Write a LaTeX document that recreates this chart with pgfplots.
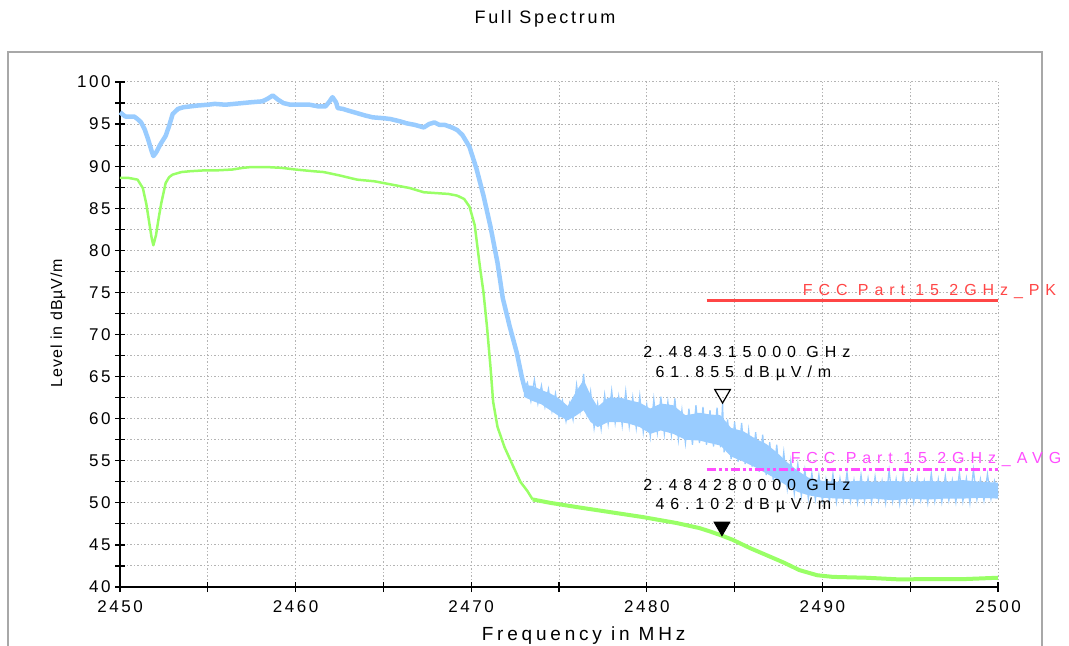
\documentclass[border=0pt]{standalone}
\usepackage{fontspec}
\setmainfont{Liberation Sans}
\newfontfamily\tickfam[LetterSpace=15]{Liberation Sans}
\newfontfamily\annfam[LetterSpace=37]{Liberation Sans}
\newfontfamily\labfam[LetterSpace=20]{Liberation Sans}
\newfontfamily\ylabfam[LetterSpace=6]{Liberation Sans}
\newfontfamily\titfam[LetterSpace=15]{Liberation Sans}
\usepackage{pgfplots}
\pgfplotsset{compat=1.18}
\definecolor{pkblue}{HTML}{99CCFF}
\definecolor{avgreen}{HTML}{99FF66}
\definecolor{limred}{HTML}{FF4646}
\definecolor{limmag}{HTML}{FF4DFF}
\definecolor{gridgray}{HTML}{B4B4B4}
\definecolor{framegray}{HTML}{A8A8A8}
\begin{document}
\begin{tikzpicture}
\path[use as bounding box] (-120bp,-59bp) rectangle (949bp,587bp);
\draw[framegray, line width=1.5bp] (-112bp,-62bp) -- (-112bp,535bp) -- (922bp,535bp) -- (922bp,-62bp);
\begin{axis}[
  at={(0,0)}, anchor=south west,
  width=878bp, height=505bp, scale only axis,
  xmin=2450, xmax=2500, ymin=40, ymax=100,
  axis lines*=left,
  axis line style={line width=1.5bp, black},
  xtick={2450,2460,...,2500}, minor x tick num=1,
  ytick={40,45,...,100}, minor y tick num=1,
  tick align=center,
  major tick length=10bp, minor tick length=10bp,
  every tick/.style={black, line width=1.2bp},
  grid=both,
  major grid style={gridgray, line width=1bp, dash pattern=on 1.5bp off 2bp},
  minor grid style={gridgray, line width=1bp, dash pattern=on 1.5bp off 2bp},
  /pgf/number format/assume math mode=true,
  /pgf/number format/set thousands separator={},
  ticklabel style={font=\fontsize{17bp}{19bp}\selectfont\tickfam},
  xticklabel style={yshift=-5bp},
  yticklabel style={xshift=-1bp},
  xlabel={Frequency in MHz},
  x label style={at={(axis description cs:0.528,0)}, anchor=center, yshift=-49bp, font=\fontsize{19bp}{21bp}\selectfont\labfam},
  ylabel={Level in dBµV/m},
  y label style={at={(axis description cs:-0.0706,0.523)}, anchor=center, rotate=0, font=\fontsize{16bp}{18bp}\selectfont\ylabfam},
  clip=false,
]
\node[font=\fontsize{18bp}{20bp}\selectfont\titfam, anchor=center] at (axis description cs:0.484,1.1247) {Full Spectrum};
% average trace
\addplot[avgreen, line width=2.5bp, line join=round] coordinates {
(2450.0,88.6) (2450.5,88.6) (2451.0,88.4) (2451.3,87.4) (2451.5,85.5) (2451.65,83.5) (2451.8,81.5) (2451.9,80.6) (2452.05,81.8) (2452.2,83.8) (2452.35,85.6) (2452.6,88.0) (2452.8,88.7) (2453.0,89.0) (2453.5,89.3) (2454.0,89.4) (2454.8,89.5) (2455.5,89.5) (2456.4,89.6) (2457.0,89.8) (2457.5,89.9) (2458.3,89.9) (2459.2,89.8) (2460.0,89.6) (2461.0,89.4) (2461.6,89.3) (2462.5,88.9) (2463.5,88.4) (2464.5,88.2) (2465.5,87.8) (2466.5,87.4) (2467.3,86.9) (2468.0,86.8) (2468.7,86.7) (2469.2,86.5) (2469.6,86.1) (2469.9,85.2) (2470.2,83.0) (2470.5,78.0) (2470.7,75.0) (2470.9,70.9) (2471.1,66.1) (2471.25,62.0) (2471.5,59.0) (2471.9,56.6) (2472.4,54.3) (2472.8,52.5) (2473.2,51.4) (2473.5,50.4)
};
\addplot[avgreen, line width=4bp, line join=round] coordinates {
(2473.5,50.4) (2474.5,50.0) (2476.0,49.5) (2477.9,48.9) (2479.8,48.3) (2481.7,47.6) (2483.0,47.0) (2483.6,46.6) (2484.28,46.1) (2484.9,45.6) (2485.9,44.6) (2486.8,43.8) (2487.8,42.9) (2488.7,42.0) (2489.7,41.4) (2490.6,41.2) (2492.5,41.1) (2494.4,40.9) (2496.3,40.95) (2498.2,40.95) (2500,41.1)
};
% peak trace
\addplot[pkblue, line width=4.5bp, line join=round] coordinates {
(2450.0,96.4) (2450.3,95.9) (2450.8,95.9) (2451.0,95.6) (2451.2,95.2) (2451.4,94.4) (2451.6,93.2) (2451.8,91.8) (2451.9,91.2) (2452.05,91.6) (2452.3,92.6) (2452.6,93.6) (2452.8,94.8) (2453.0,96.2) (2453.3,96.8) (2453.6,97.0) (2454.0,97.1) (2454.4,97.2) (2455.0,97.3) (2455.4,97.4) (2456.0,97.3) (2456.5,97.4) (2457.0,97.5) (2457.5,97.6) (2458.1,97.7) (2458.4,98.0) (2458.7,98.4) (2459.0,97.9) (2459.3,97.5) (2459.7,97.3) (2460.2,97.3) (2460.8,97.3) (2461.3,97.1) (2461.7,97.1) (2461.9,97.6) (2462.1,98.2) (2462.3,97.6) (2462.4,96.9) (2462.7,96.8) (2463.0,96.6) (2463.5,96.3) (2464.0,96.0) (2464.4,95.8) (2465.0,95.7) (2465.4,95.6) (2466.0,95.3) (2466.3,95.1) (2466.8,94.9) (2467.3,94.6) (2467.6,95.0) (2467.9,95.2) (2468.2,94.9) (2468.5,94.9) (2468.9,94.6) (2469.2,94.3) (2469.5,93.7) (2469.9,92.3) (2470.3,89.7) (2470.7,86.5) (2471.1,82.8) (2471.5,78.5) (2471.8,74.3) (2472.2,70.9) (2472.6,67.8) (2472.9,64.8) (2473.1,63.2)
};
% peak trace, noisy part: core band
\addplot[pkblue, fill=pkblue, draw=none] coordinates {
(2473.0,64.0) (2473.5,63.9) (2474.0,63.4) (2474.5,63.0) (2475.0,62.4) (2475.5,61.5) (2476.0,63.3) (2476.4,64.6) (2476.8,62.8) (2477.2,61.4) (2477.8,62.5) (2478.5,62.5) (2479.0,62.2) (2479.6,61.9) (2480.2,61.2) (2480.8,61.8) (2481.5,61.6) (2482.2,60.4) (2483.0,60.7) (2483.6,60.5) (2484.2,60.4) (2484.8,58.9) (2485.5,58.5) (2486.2,57.6) (2486.8,57.0) (2487.4,56.0) (2488.0,54.8) (2488.6,53.8) (2489.2,53.0) (2490.0,52.6) (2491,52.5) (2492,52.6) (2493,52.5) (2494,52.6) (2495,52.5) (2496,52.6) (2497,52.5) (2498,52.7) (2499,52.5) (2500,52.4)
(2500,50.5) (2499,50.6) (2498,50.5) (2497,50.5) (2496,50.4) (2495,50.5) (2494,50.3) (2493,50.5) (2492,50.4) (2491,50.5) (2490,50.6) (2489.2,50.9) (2488.6,51.3) (2488.0,52.0) (2487.4,52.8) (2486.8,53.5) (2486.2,54.2) (2485.5,54.9) (2484.8,55.5) (2484.2,56.8) (2483.6,57.1) (2483.0,57.4) (2482.2,57.5) (2481.5,58.2) (2480.8,58.6) (2480.2,58.2) (2479.6,59.0) (2479.0,59.4) (2478.5,59.6) (2477.8,59.6) (2477.2,59.0) (2476.8,59.6) (2476.4,61.0) (2476.0,60.4) (2475.5,59.8) (2475.0,60.3) (2474.5,61.0) (2474.0,61.7) (2473.5,62.1) (2473.0,62.6)
};
\addplot[pkblue, line width=1.3bp] coordinates {
(2473.0,63.5) (2473.2,64.3) (2473.4,62.1) (2473.6,64.6) (2473.8,61.8) (2474.0,63.9) (2474.2,61.4) (2474.4,63.5) (2474.6,60.9) (2474.8,63.0) (2475.0,60.2) (2475.2,62.1) (2475.4,59.7) (2475.6,61.8) (2475.8,59.9) (2476.0,64.0) (2476.2,61.0) (2476.4,65.3) (2476.6,60.6) (2476.8,63.2) (2477.0,58.9) (2477.2,61.8) (2477.4,58.8) (2477.6,62.8) (2477.8,59.4) (2478.0,63.3) (2478.2,59.5) (2478.4,62.6) (2478.6,59.2) (2478.8,63.2) (2479.0,59.1) (2479.2,62.5) (2479.4,58.9) (2479.6,62.7) (2479.8,58.4) (2480.0,61.6) (2480.2,57.9) (2480.4,62.3) (2480.6,58.4) (2480.8,62.6) (2481.0,58.2) (2481.2,62.0) (2481.4,58.1) (2481.6,62.4) (2481.8,57.5) (2482.0,61.0) (2482.2,57.1) (2482.4,61.2) (2482.6,56.9) (2482.8,61.6) (2483.0,57.1) (2483.2,61.4) (2483.4,56.9) (2483.6,61.0) (2483.8,56.7) (2484.0,61.3) (2484.2,56.6) (2484.315,61.855) (2484.4,56.0) (2484.6,59.9) (2484.8,55.2) (2485.0,59.6) (2485.2,54.9) (2485.4,59.5) (2485.6,54.6) (2485.8,58.6) (2486.0,54.3) (2486.2,58.4) (2486.4,53.7) (2486.6,58.1) (2486.8,53.3) (2487.0,57.2) (2487.2,52.7) (2487.4,56.9) (2487.6,52.2) (2487.8,56.0) (2488.0,51.7) (2488.2,55.0) (2488.4,51.1) (2488.6,54.6) (2488.8,50.8) (2489.0,53.9) (2489.2,50.5) (2489.4,53.5) (2489.6,50.4) (2489.8,53.3) (2490.0,50.3) (2490.2,52.8) (2490.4,50.2) (2490.6,53.4) (2490.8,50.1) (2491.0,52.9) (2491.2,50.3) (2491.4,53.6) (2491.6,50.2) (2491.8,52.7) (2492.0,50.0) (2492.2,53.3) (2492.4,50.2) (2492.6,52.9) (2492.8,50.1) (2493.0,53.1) (2493.2,50.3) (2493.4,52.6) (2493.6,50.0) (2493.8,53.8) (2494.0,50.2) (2494.2,52.8) (2494.4,49.9) (2494.6,53.4) (2494.8,50.2) (2495.0,52.7) (2495.2,50.1) (2495.4,53.0) (2495.6,50.3) (2495.8,52.6) (2496.0,50.0) (2496.2,53.5) (2496.4,50.2) (2496.6,52.8) (2496.8,50.1) (2497.0,53.2) (2497.2,50.3) (2497.4,52.7) (2497.6,50.1) (2497.8,53.6) (2498.0,50.2) (2498.2,52.9) (2498.4,50.0) (2498.6,53.9) (2498.8,50.4) (2499.0,52.8) (2499.2,50.3) (2499.4,53.4) (2499.6,50.5) (2499.8,52.6) (2500.0,51.0)
};
% limit lines
\addplot[limred, line width=3bp] coordinates {(2483.4,74) (2500,74)};
\addplot[limmag, line width=3bp, dash pattern=on 9bp off 3bp on 3bp off 3bp on 3bp off 3bp] coordinates {(2483.4,54) (2500,54)};
% markers
\addplot[only marks, mark=triangle, mark size=9bp, mark options={draw=black, fill=white, line width=1.2bp, yshift=9bp, rotate=180}] coordinates {(2484.315,61.855)};
\addplot[only marks, mark=triangle*, mark size=9bp, mark options={draw=black, fill=black, line width=1bp, yshift=9bp, rotate=180}] coordinates {(2484.28,46.102)};
% texts
\node[font=\fontsize{16bp}{18bp}\selectfont\annfam, anchor=center] at (axis cs:2485.7,67.9) {2.484315000 GHz};
\node[font=\fontsize{16bp}{18bp}\selectfont\annfam, anchor=center] at (axis cs:2485.5,65.4) {61.855 dBµV/m};
\node[font=\fontsize{16bp}{18bp}\selectfont\annfam, anchor=center] at (axis cs:2485.7,52.1) {2.484280000 GHz};
\node[font=\fontsize{16bp}{18bp}\selectfont\annfam, anchor=center] at (axis cs:2485.5,49.7) {46.102 dBµV/m};
\node[font=\fontsize{16bp}{18bp}\selectfont\annfam, text=limred, anchor=center] at (axis cs:2496.1,75.15) {FCC Part 15 2GHz\_PK};
\node[font=\fontsize{16bp}{18bp}\selectfont\annfam, text=limmag, anchor=center] at (axis cs:2495.9,55.2) {FCC Part 15 2GHz\_AVG};
\end{axis}
\end{tikzpicture}
\end{document}
